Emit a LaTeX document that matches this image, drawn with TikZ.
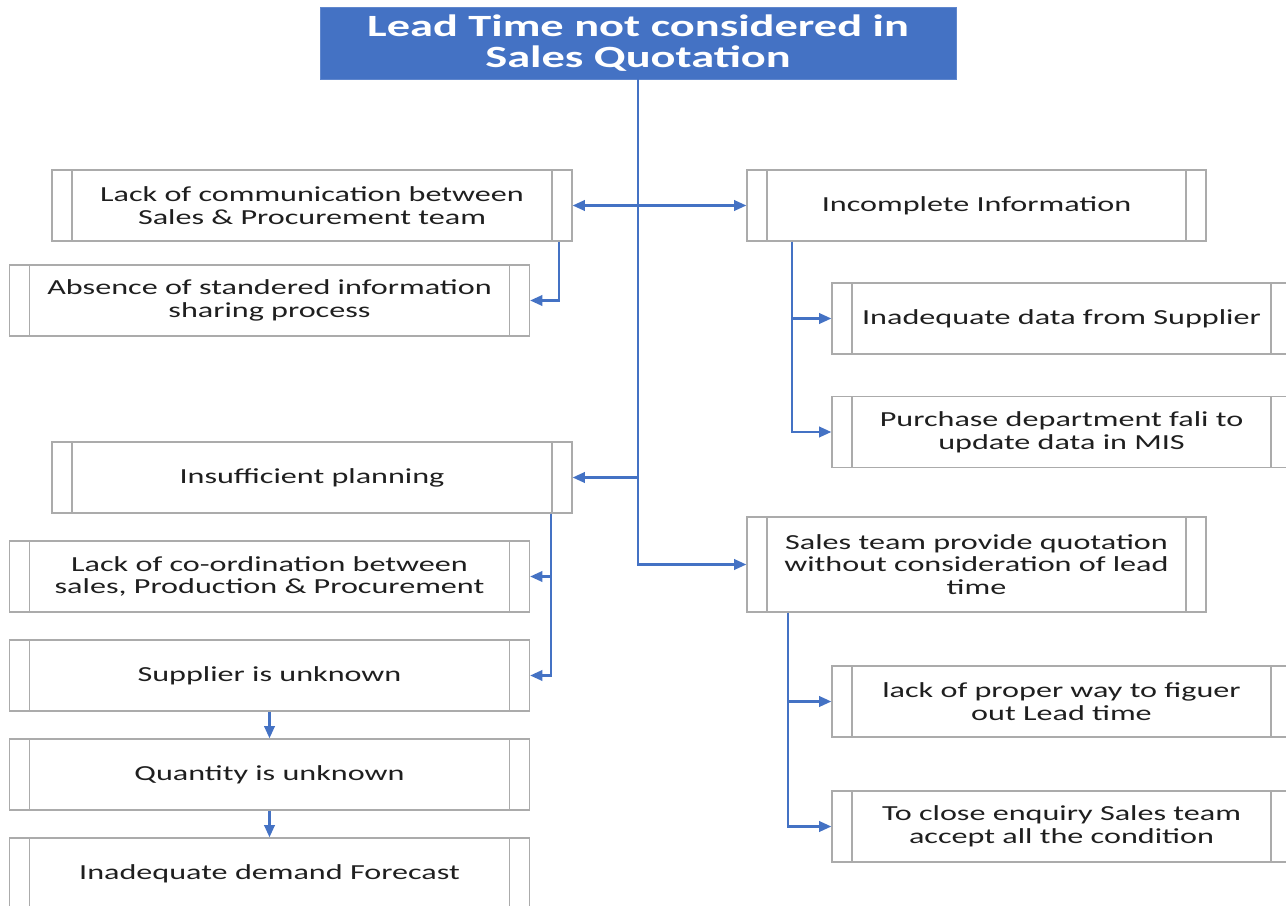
\documentclass[tikz,border=0pt]{standalone}
\usepackage{fontspec}
\setmainfont{Carlito}[FakeStretch=1.5]
\usepackage{tikz}
\usetikzlibrary{arrows.meta}
\definecolor{titleblue}{HTML}{4472C4}
\definecolor{boxline}{HTML}{ABABAB}
\definecolor{txt}{HTML}{1F1F1F}
\newcommand{\bodyfont}{\fontsize{12.2}{13}\selectfont}
\newcommand{\titlefont}{\fontsize{17.6}{17.8}\selectfont\bfseries}

\begin{document}
\begin{tikzpicture}[x=0.02cm,y=-0.02cm,
  box/.style={draw=boxline,line width=0.8pt,fill=white,inner sep=0pt,align=center,
     font=\bodyfont,text=txt,minimum width=#1,minimum height=1.42cm,
     path picture={\draw[boxline,line width=0.8pt]
       ([xshift=0.4cm]path picture bounding box.north west) -- ([xshift=0.4cm]path picture bounding box.south west)
       ([xshift=-0.4cm]path picture bounding box.north east) -- ([xshift=-0.4cm]path picture bounding box.south east);}},
  box/.default=10.4cm,
  head/.style={draw=titleblue!85!white,fill=titleblue,text=white,font=\titlefont,align=center,
     inner sep=0pt,minimum width=12.72cm,minimum height=1.44cm},
  arr/.style={-{Triangle[length=7pt,width=6pt]},draw=titleblue,line width=1.3pt},
  arrs/.style={{Triangle[length=7pt,width=6pt]}-{Triangle[length=7pt,width=6pt]},draw=titleblue,line width=1.3pt}]
\useasboundingbox (0,0) rectangle (1286,906);
\node[head] (title) at (638,43) {Lead Time not considered in\\ Sales Quotation};
\node[box] (comm) at (312,205.5) {Lack of communication between\\ Sales \& Procurement team};
\node[box] (share) at (269.5,300.5) {Absence of standered information\\ sharing process};
\node[box=9.18cm] (info) at (976.5,205.5) {Incomplete Information};
\node[box=9.18cm] (supp) at (1061.5,318.5) {Inadequate data from Supplier};
\node[box=9.18cm] (mis) at (1061.5,432) {Purchase department fali to\\ update data in MIS};
\node[box] (plan) at (312,477.5) {Insufficient planning};
\node[box] (coord) at (269.5,576.5) {Lack of co-ordination between\\ sales, Production \& Procurement};
\node[box] (supplier) at (269.5,675.5) {Supplier is unknown};
\node[box] (qty) at (269.5,774.5) {Quantity is unknown};
\node[box] (fcst) at (269.5,873.5) {Inadequate demand Forecast};
\node[box=9.18cm,minimum height=1.9cm] (quote) at (976.5,564.5) {Sales team provide quotation\\ without consideration of lead\\ time};
\node[box=9.18cm] (lead) at (1061.5,701.5) {lack of proper way to figuer\\ out Lead time};
\node[box=9.18cm] (close) at (1061.5,826.5) {To close enquiry Sales team\\ accept all the condition};
\draw[arr] (title.south) |- (quote.west);
\draw[arrs] (comm.east) -- (info.west);
\draw[arr] (title.south |- plan.east) -- (plan.east);
\draw[arr] ([xshift=-0.28cm]comm.south east) |- (share.east);
\draw[arr] ([xshift=0.92cm]info.south west) |- (supp.west);
\draw[arr] ([xshift=0.92cm]info.south west) |- (mis.west);
\draw[arr] ([xshift=-0.43cm]plan.south east) |- (coord.east);
\draw[arr] ([xshift=-0.43cm]plan.south east) |- (supplier.east);
\draw[arr] ([xshift=0.83cm]quote.south west) |- (lead.west);
\draw[arr] ([xshift=0.83cm]quote.south west) |- (close.west);
\draw[arr] (supplier) -- (qty);
\draw[arr] (qty) -- (fcst);
\end{tikzpicture}
\end{document}
